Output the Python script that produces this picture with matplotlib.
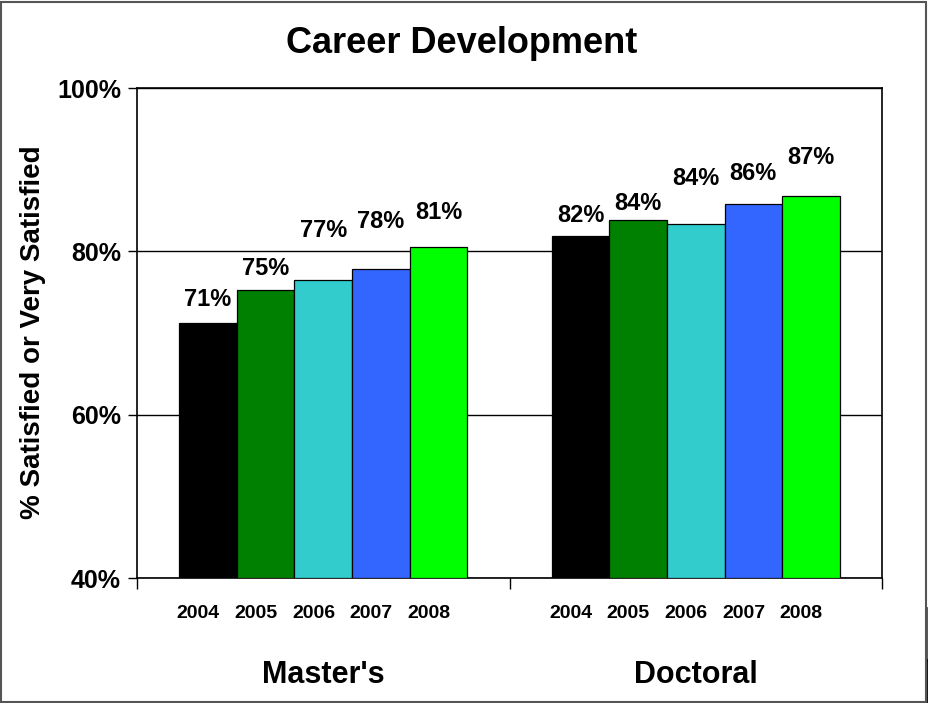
import matplotlib.pyplot as plt
import matplotlib.transforms as mtransforms
from matplotlib.lines import Line2D
from matplotlib.patches import Rectangle

plt.rcParams['font.family'] = ['Liberation Sans', 'DejaVu Sans']
plt.rcParams['font.weight'] = 'bold'

# data
groups = ["Master's", "Doctoral"]
years = ["2004", "2005", "2006", "2007", "2008"]
masters = [71.2, 75.3, 76.5, 77.8, 80.5]
doctoral = [81.9, 83.8, 83.4, 85.8, 86.8]
masters_labels = ["71%", "75%", "77%", "78%", "81%"]
doctoral_labels = ["82%", "84%", "84%", "86%", "87%"]
colors = ["#000000", "#008000", "#33CCCC", "#3366FF", "#00FF00"]

# how far each value label sits above its bar (points)
label_lift = [[9, 7, 27, 26, 17], [6, 4, 24, 14, 19]]

fig = plt.figure(figsize=(9.29, 7.03), dpi=100)
ax = fig.add_axes([0.1475, 0.1778, 0.8019, 0.697])

bar_w = 0.1547
values = [masters, doctoral]
labels = [masters_labels, doctoral_labels]
for g in range(len(groups)):
    for i in range(len(years)):
        x = g + (i - 2) * bar_w
        ax.bar(x, values[g][i] - 40, bottom=40, width=bar_w, color=colors[i],
               edgecolor='black', linewidth=0.9, zorder=3)
        ax.annotate(labels[g][i], (x, values[g][i]), xytext=(0, label_lift[g][i]),
                    textcoords='offset points', ha='center', va='bottom',
                    fontsize=17, fontweight='bold', zorder=4)
        # year under each bar
        trans = mtransforms.blended_transform_factory(ax.transData, fig.transFigure)
        ax.text(x, 0.1209, years[i], transform=trans + mtransforms.ScaledTranslation(-7 / 72, 0, fig.dpi_scale_trans),
                ha='center', va='baseline', fontsize=14, fontweight='bold')
    trans = mtransforms.blended_transform_factory(ax.transData, fig.transFigure)
    ax.text(g, 0.0284, groups[g], transform=trans, ha='center', va='baseline',
            fontsize=22, fontweight='bold')

ax.set_xlim(-0.5, 1.5)
ax.set_ylim(40, 100)
ax.set_yticks([40, 60, 80, 100])
ax.set_yticklabels(["40%", "60%", "80%", "100%"], fontsize=18, fontweight='bold')
ax.set_xticks([-0.5, 0.5, 1.5])
ax.set_xticklabels([])
ax.tick_params(axis='y', direction='out', length=6.5, width=1, pad=5)
ax.tick_params(axis='x', direction='out', length=8, width=1)
ax.grid(axis='y', color='black', linewidth=1, zorder=0)
for s in ax.spines.values():
    s.set_linewidth(1.2)
    s.set_color('black')

fig.text(0.497, 0.9246, "Career Development", ha='center', va='baseline',
         fontsize=26, fontweight='bold')
fig.text(0.035, 0.528, "% Satisfied or Very Satisfied", rotation=90,
         ha='center', va='center', fontsize=20, fontweight='bold')

# slide frame around the picture
fig.patches.append(Rectangle((0.001, 0.002), 0.996, 0.995, transform=fig.transFigure,
                             fill=False, edgecolor='#555555', linewidth=1.5))
fig.lines.append(Line2D([0.9985, 0.9985], [1 - 608 / 703, 1 - 660 / 703],
                        transform=fig.transFigure, color='#E0001B', linewidth=2))
fig.lines.append(Line2D([0.9985, 0.9985], [0.0, 1 - 660 / 703],
                        transform=fig.transFigure, color='black', linewidth=2))

fig.savefig("out.png", dpi=100)
